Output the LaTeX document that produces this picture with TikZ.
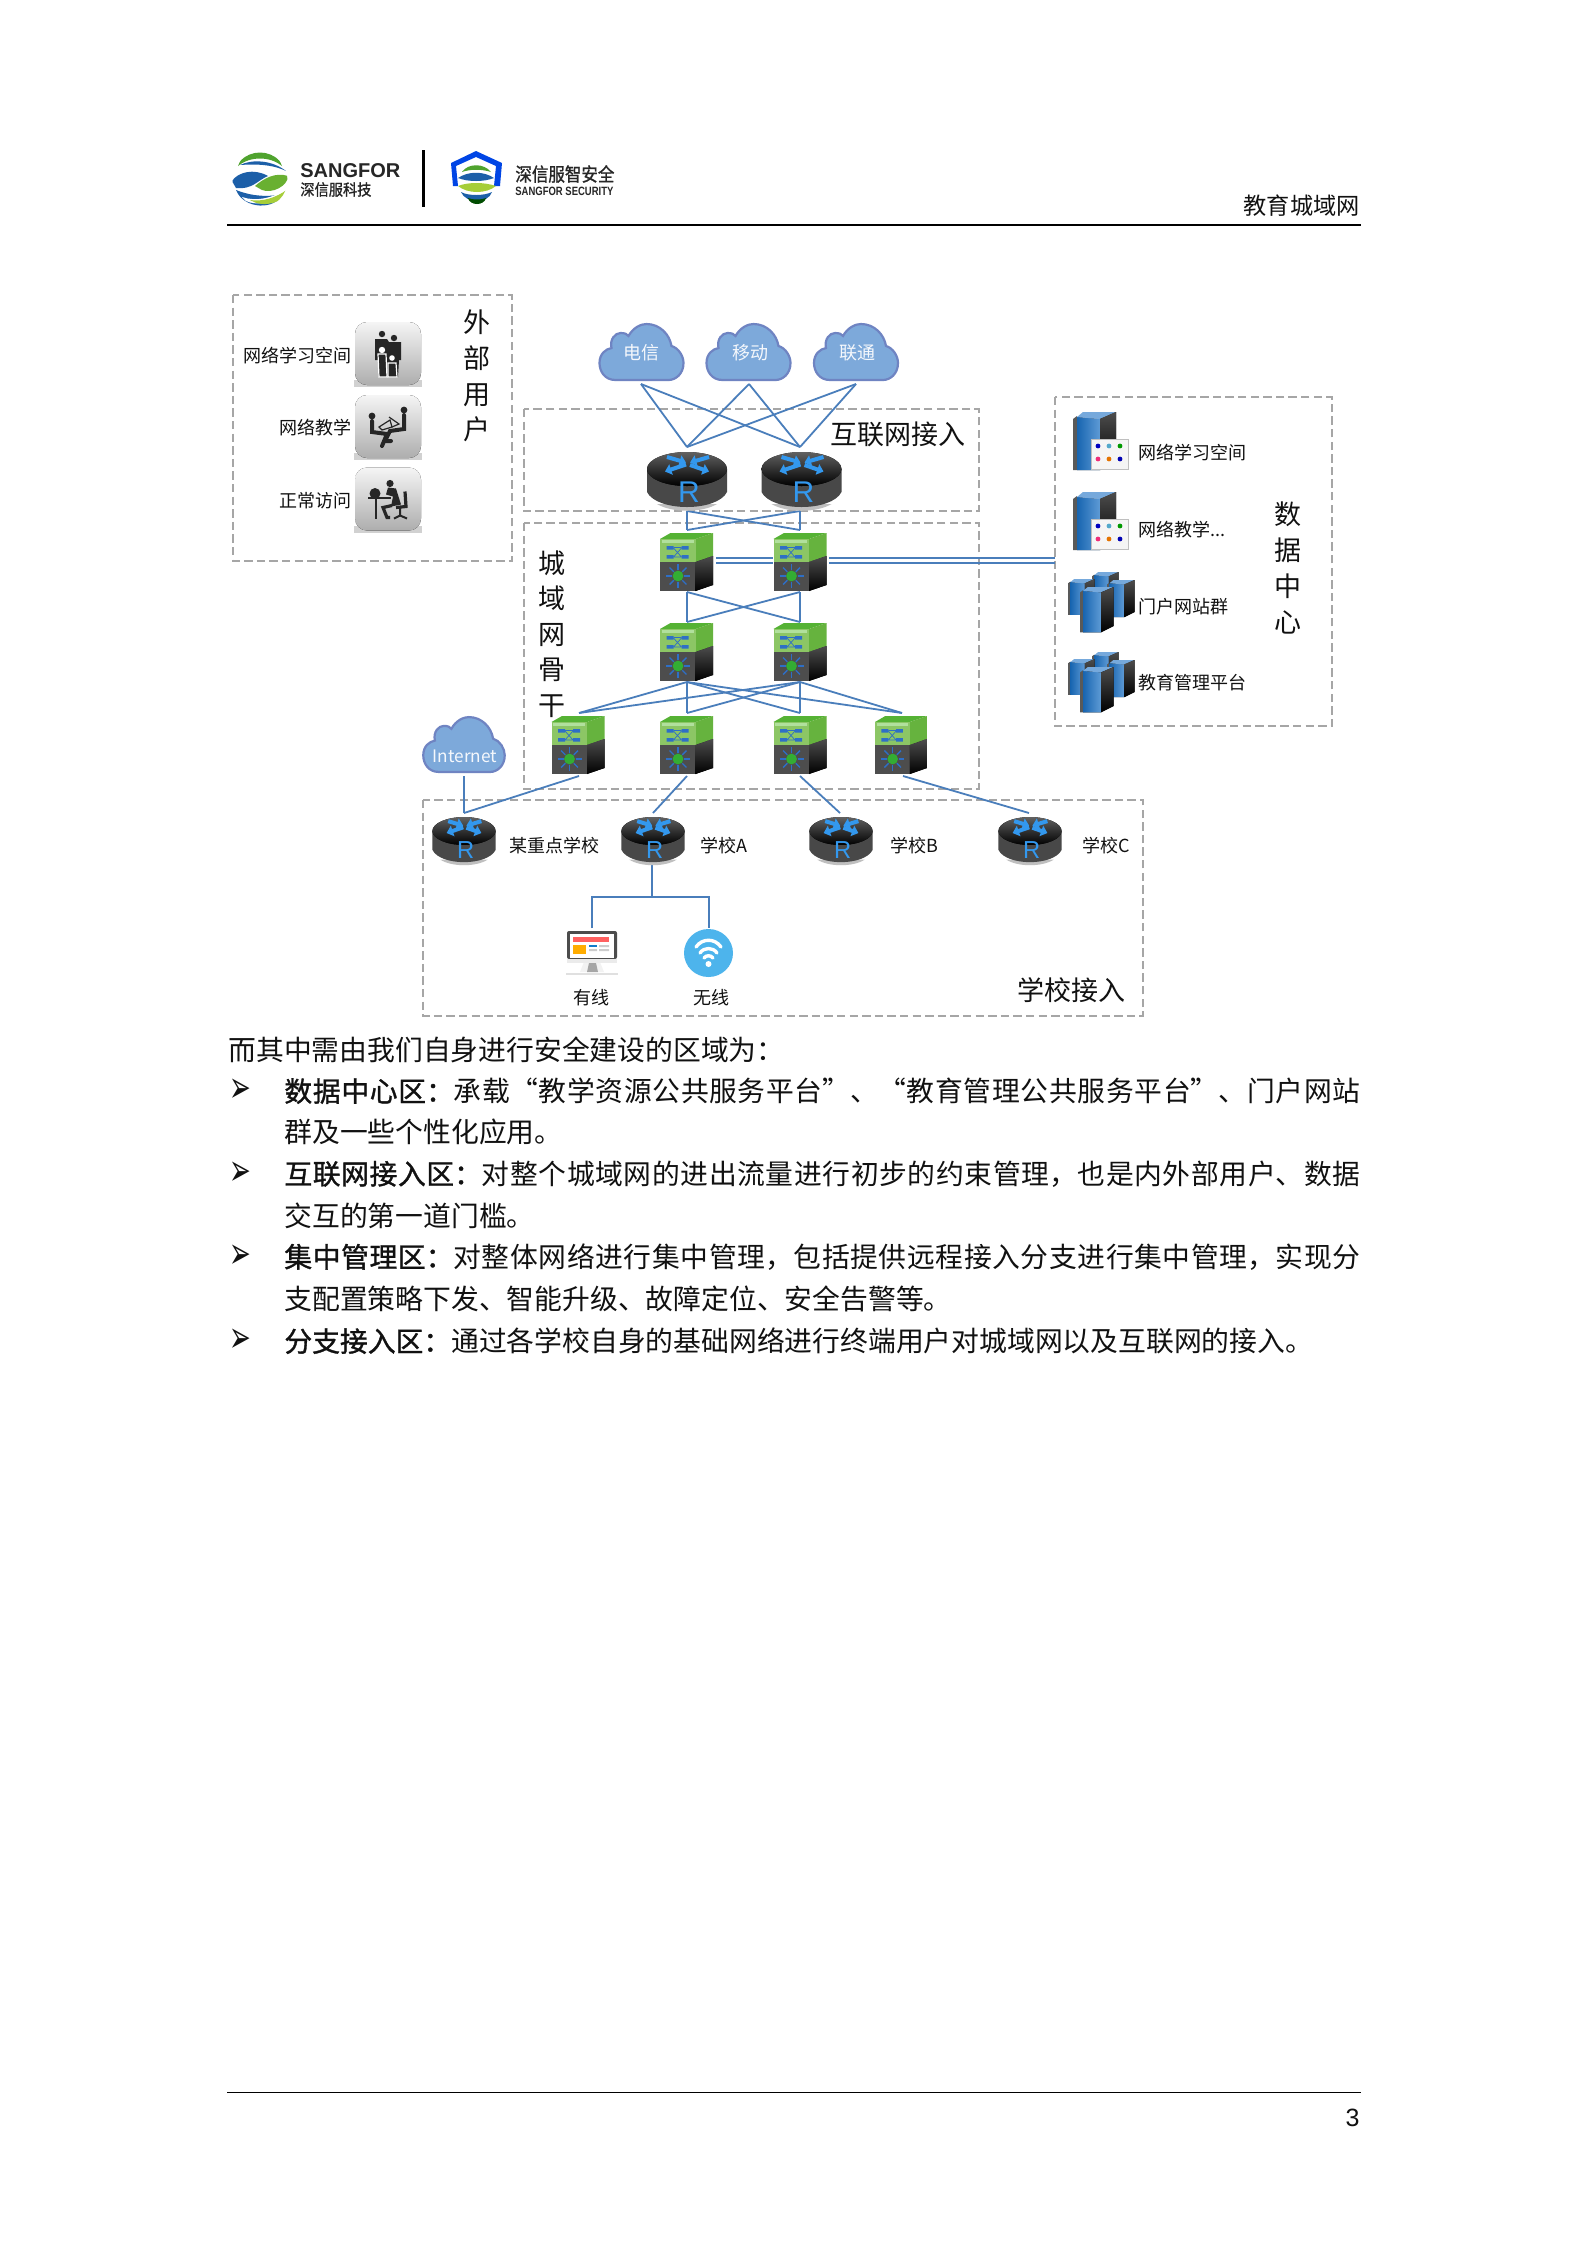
\documentclass[tikz,border=0pt]{standalone}
\usepackage{fontspec}
\setmainfont{Noto Sans CJK SC}
\newfontfamily\fbold{Noto Sans CJK SC}[FakeBold=1.2]
\newfontfamily\arial{Liberation Sans}
\newfontfamily\dejavu{DejaVu Sans}
\usetikzlibrary{arrows.meta}
\definecolor{linkc}{HTML}{4A7EBB}
\definecolor{dashc}{HTML}{A6A6A6}
\definecolor{cloudf}{HTML}{7DA9DA}
\definecolor{cloudd}{HTML}{6F84C2}
\definecolor{rblue}{HTML}{3398EE}
\definecolor{rbody}{HTML}{484848}
\definecolor{swlight}{HTML}{8CC665}
\definecolor{swtop}{HTML}{55B234}
\definecolor{swside}{HTML}{66B33E}
\definecolor{swdark}{HTML}{4D4D4D}
\definecolor{swblue}{HTML}{2E6FC6}
\definecolor{srvblue}{HTML}{1A70C4}
\definecolor{txt}{HTML}{111111}
\definecolor{sil}{HTML}{262626}
\definecolor{lgblue}{HTML}{1C5FA8}
\definecolor{lggreen}{HTML}{4FA32E}
\definecolor{lglime}{HTML}{A6CE39}
\definecolor{wifib}{HTML}{4DB4EC}
\tikzset{
 zone/.style={draw=dashc,line width=1pt,dash pattern=on 4.2pt off 2.1pt},
 link/.style={draw=linkc,line width=.9pt},
 small/.style={font=\fontsize{9}{9}\selectfont,color=txt,inner sep=0pt},
 big/.style={font=\fontsize{13.5}{13.5}\selectfont,color=txt,inner sep=0pt},
 vert/.style={font=\fontsize{13.5}{17.8}\selectfont,color=txt,inner sep=0pt,align=center},
 cloudtext/.style={font=\fontsize{9}{9}\selectfont,color=white!92!cloudf,inner sep=0pt},
 bodytext/.style={anchor=west,inner sep=0pt,font=\fontsize{13.9}{13.9}\selectfont,color=txt},
 bullettext/.style={anchor=west,inner sep=0pt,font=\dejavu\fontsize{13}{13}\selectfont,color=txt},
 raro/.style={draw=rblue,line width=2pt,-{Triangle[length=3.2pt,width=5.4pt]}},
 cloudicon/.pic={
  \path[fill=cloudf,draw=cloudd,line width=1.1pt]
   (-26,28) .. controls (-37,28) and (-42,19) .. (-42,11) .. controls (-42,2) and (-36,-3) .. (-30,-4)
   .. controls (-32,-13) and (-26,-19) .. (-21,-19) .. controls (-17,-19) and (-14,-18) .. (-13,-16)
   .. controls (-8,-25) and (0,-28) .. (5,-28) .. controls (18,-28) and (28,-18) .. (30,-6)
   .. controls (37,-4) and (42,4) .. (42,11) .. controls (42,22) and (34,28) .. (27,28) -- cycle;
 },
 routericon/.pic={
  \fill[black!25] (-30,24) .. controls (-15,33) and (15,33) .. (30,24) -- cycle;
  \fill[rbody] (-40,-11) -- (-40,12) .. controls (-30,32) and (30,32) .. (40,12) -- (40,-11) -- cycle;
  \fill[top color=black!62,bottom color=black] (0,-11) ellipse [x radius=40,y radius=17];
  \draw[raro] (-20,-23) -- (-1,-17.5);
  \draw[raro] (-1,-15.5) -- (-22,-8.5);
  \draw[raro] (22,-23) -- (3,-17.5);
  \draw[raro] (3,-15) -- (22,-8.5);
  \node[transform shape,inner sep=0pt,text=rblue,font=\arial\fontsize{15}{15}\selectfont] at (2,12) {R};
 },
 switchicon/.pic={
  \fill[swtop] (-26.5,-23) -- (-16,-29) -- (26.5,-29) -- (9,-23) -- cycle;
  \fill[swside] (9,-23) -- (26.5,-29) -- (26.5,-6) -- (9,0) -- cycle;
  \fill[swlight] (-26.5,-23) rectangle (9,0);
  \fill[green!10!swlight!60!white] (-25,-22) rectangle (7,-19.5);
  \fill[swdark] (-26.5,0) rectangle (9,29);
  \fill[top color=black!70,bottom color=black] (9,0) -- (26.5,-6) -- (26.5,23) -- (9,29) -- cycle;
  \fill[swblue] (-20,-16) rectangle (-13,-12.5) (-5,-16) rectangle (2,-12.5)
   (-20,-7) rectangle (-13,-3.5) (-5,-7) rectangle (2,-3.5);
  \draw[swblue,line width=.35pt] (-13,-14) -- (-5,-5) (-13,-5) -- (-5,-14) (-13,-14.5) -- (-5,-14.5) (-13,-5) -- (-5,-5);
  \foreach \a in {0,45,...,315}
   \draw[swblue,line width=.7pt] (-8.5,14) ++(\a:6) -- ++(\a:6);
  \fill[green!60!black!80!white] (-8.5,14) circle [radius=5.4];
 },
 towericon/.pic={
  \fill[black!65] (0,7) -- (4,4) -- (4,58) -- (0,58) -- cycle;
  \fill[left color=srvblue!90!black,right color=srvblue!70!white] (4,5) -- (27,7) -- (27,58) -- (4,58) -- cycle;
  \fill[srvblue!60!white] (4,5) -- (10,0) -- (43,0) -- (27,7) -- cycle;
  \fill[top color=black!70,bottom color=black] (27,7) -- (43,0) -- (43,50) -- (27,58) -- cycle;
 },
 panelicon/.pic={
  \fill[black!4] (18,27) rectangle (55,57);
  \draw[black!25,line width=.3pt] (18,27) rectangle (55,57);
  \fill[blue!75!black] (25,34) circle [radius=2.4];
  \fill[cyan!60!gray] (36,34) circle [radius=2.4];
  \fill[green!60!black] (47,34) circle [radius=2.4];
  \fill[magenta!70!orange] (25,47) circle [radius=2.4];
  \fill[orange!90!black] (36,47) circle [radius=2.4];
  \fill[blue!70!black] (47,47) circle [radius=2.4];
 },
 clustericon/.pic={
  \pic[scale=.62] at (24,0) {towericon};
  \pic[scale=.62] at (0,7) {towericon};
  \pic[scale=.64] at (39,8) {towericon};
  \pic[scale=.78] at (12,15) {towericon};
 },
 buttonicon/.pic={
  \fill[black!18] (-34,26) rectangle (34,33);
  \fill[rounded corners=6pt,top color=black!4,bottom color=black!32] (-33,-32) rectangle (33,31);
 },
}
\begin{document}
\begin{tikzpicture}[x=.5pt,y=-.5pt]
\useasboundingbox (0,0) rectangle (1587,2245);
\fill[white] (0,0) rectangle (1587,2245);

% ---------- header logo
\begin{scope}
 \clip (260,180) circle [radius=27.5];
 \fill[white] (233,152) rectangle (288,208);
 \fill[lggreen] (238,166) .. controls (245,146) and (275,146) .. (282,166) .. controls (270,156) and (250,156) .. cycle;
 \fill[lgblue] (240,165) .. controls (252,159) and (272,160) .. (286,171) .. controls (272,164) and (254,164) .. cycle;
 \fill[lgblue] (232,181) .. controls (238,172) and (254,168) .. (268,176) .. controls (258,180) and (252,190) .. (236,188) -- cycle;
 \fill[lggreen!70!lglime] (255,186) .. controls (264,178) and (276,172) .. (288,176) .. controls (288,186) and (272,194) .. (262,190) -- cycle;
 \fill[lgblue] (236,190) .. controls (248,195) and (266,198) .. (282,194) .. controls (276,210) and (244,210) .. cycle;
 \fill[white] (242,197) .. controls (256,202) and (274,198) .. (288,188) -- (288,192) .. controls (274,203) and (256,206) .. (246,201) -- cycle;
 \fill[lglime] (250,200) .. controls (262,202) and (276,198) .. (288,189) .. controls (284,204) and (262,208) .. cycle;
\end{scope}
\node[inner sep=0pt,anchor=west,text=black!85] (sangfor) at (300,170.5) {\resizebox{50pt}{!}{\arial\bfseries SANGFOR}};
\node[inner sep=0pt,anchor=west,text=black!85] (sangcn) at (300,189.5) {\resizebox{35.5pt}{6.6pt}{\fbold 深信服科技}};
\fill[black] (421.5,150) rectangle (424.5,207);
\path[fill=blue!70!cyan!90!black] (451,163) -- (476,151) -- (502,163) -- (500,186) -- (494,186) -- (496,166) -- (476,157) -- (456,166) -- (458,186) -- (453,186) -- cycle;
\fill[lggreen] (462,172) .. controls (468,163) and (484,163) .. (491,172) .. controls (482,169) and (470,169) .. cycle;
\fill[lgblue] (458,178) .. controls (468,171) and (484,171) .. (494,178) .. controls (484,182) and (468,182) .. cycle;
\fill[lglime] (458,186) .. controls (468,182) and (484,182) .. (496,186) .. controls (486,194) and (468,194) .. cycle;
\fill[lgblue] (461,192) .. controls (468,196) and (484,196) .. (492,192) .. controls (488,204) and (466,204) .. cycle;
\fill[green!30!black] (468,198) .. controls (472,200) and (482,200) .. (486,198) .. controls (484,206) and (470,206) .. cycle;
\node[inner sep=0pt,anchor=west,text=black!85] (seccn) at (515,174) {\resizebox{49.5pt}{8pt}{\fbold 深信服智安全}};
\node[inner sep=0pt,anchor=west,text=black!85] (secen) at (515,191.5) {\resizebox{49pt}{4.2pt}{\arial\bfseries SANGFOR SECURITY}};
\node[inner sep=0pt,anchor=east,text=txt,font=\fontsize{11.6}{11.6}\selectfont] (hdr) at (1360,206) {教育城域网};
\draw[black,line width=1pt] (227,225) -- (1361,225);

% ---------- zones
\draw[zone] (233,295) rectangle (512,561);
\draw[zone] (524,409) rectangle (979,511);
\draw[zone] (524,523) rectangle (979,789);
\draw[zone] (1055,397) rectangle (1332,726);
\draw[zone] (423,800) rectangle (1143,1016);

% ---------- named anchors
\coordinate (c1b) at (641,384); \coordinate (c2b) at (749,384); \coordinate (c3b) at (856,384);
\coordinate (r1t) at (687,447); \coordinate (r2t) at (800,447);
\coordinate (r1b) at (687,511); \coordinate (r2b) at (800,511);
\coordinate (s1t) at (687,530); \coordinate (s2t) at (800,530);
\coordinate (s1b) at (687,592); \coordinate (s2b) at (800,592);
\coordinate (m1t) at (687,622); \coordinate (m2t) at (800,622);
\coordinate (m1b) at (687,682); \coordinate (m2b) at (800,682);
\coordinate (e1t) at (579,713); \coordinate (e2t) at (687,713); \coordinate (e3t) at (800,713); \coordinate (e4t) at (902,713);
\coordinate (e1b) at (579,776); \coordinate (e2b) at (687,776); \coordinate (e3b) at (800,776); \coordinate (e4b) at (903,776);
\coordinate (it) at (464,776);
\coordinate (sa) at (464,813); \coordinate (sb) at (653,813); \coordinate (sc) at (840,813); \coordinate (sd) at (1029,813);
\coordinate (sbb) at (652,865); \coordinate (sbj) at (652,897);
\coordinate (wiredj) at (592,897); \coordinate (wifij) at (709,897);
\coordinate (wiredt) at (592,928); \coordinate (wifit) at (709,928);
\coordinate (d1a) at (716,558); \coordinate (d1b) at (773,558); \coordinate (d2a) at (716,563); \coordinate (d2b) at (773,563);
\coordinate (d3a) at (829,558); \coordinate (d3b) at (1055,558); \coordinate (d4a) at (829,563); \coordinate (d4b) at (1055,563);

% ---------- connectors
\foreach \a in {c1b,c2b,c3b} \foreach \b in {r1t,r2t} \draw[link] (\a) -- (\b);
\foreach \a in {r1b,r2b} \foreach \b in {s1t,s2t} \draw[link] (\a) -- (\b);
\foreach \a in {s1b,s2b} \foreach \b in {m1t,m2t} \draw[link] (\a) -- (\b);
\foreach \a in {m1b,m2b} \foreach \b in {e1t,e2t,e3t,e4t} \draw[link] (\a) -- (\b);
\draw[link] (it) -- (sa);
\draw[link] (e1b) -- (sa);
\draw[link] (e2b) -- (sb);
\draw[link] (e3b) -- (sc);
\draw[link] (e4b) -- (sd);
\draw[link] (sbb) -- (sbj);
\draw[link] (wiredt) -- (wiredj) -- (wifij) -- (wifit);
\draw[link] (d1a) -- (d1b); \draw[link] (d2a) -- (d2b);
\draw[link] (d3a) -- (d3b); \draw[link] (d4a) -- (d4b);

% ---------- clouds
\pic at (641.5,352) {cloudicon};
\pic at (748.5,352) {cloudicon};
\pic at (856,352) {cloudicon};
\pic[xscale=.97,yscale=.98] at (464,744.5) {cloudicon};
\node[cloudtext] (ct) at (641,353) {电信};
\node[cloudtext] (cm) at (750,353) {移动};
\node[cloudtext] (cu) at (857,353) {联通};
\node[cloudtext,font=\fontsize{8.6}{9}\selectfont] (inet) at (465,756) {Internet};

% ---------- routers
\pic at (687,480) {routericon};
\pic at (801.5,480) {routericon};
\pic[xscale=.79,yscale=.82] at (464,840) {routericon};
\pic[xscale=.79,yscale=.82] at (653,840) {routericon};
\pic[xscale=.79,yscale=.82] at (841,840) {routericon};
\pic[xscale=.79,yscale=.82] at (1030,840) {routericon};

% ---------- switches
\pic at (686.5,562) {switchicon};
\pic at (800,562) {switchicon};
\pic at (686.5,652) {switchicon};
\pic at (800,652) {switchicon};
\pic at (578,745) {switchicon};
\pic at (686.5,745) {switchicon};
\pic at (800,745) {switchicon};
\pic[xscale=.98] at (901,745) {switchicon};

% ---------- user buttons
\pic at (388,354) {buttonicon};
\pic at (388,427) {buttonicon};
\pic at (388,499.5) {buttonicon};
% family
\begin{scope}[shift={(388,354)}]
 \fill[sil] (-6,-20) circle [radius=3.2] (6,-16) circle [radius=3.2];
 \fill[sil] (-13,-15) -- (-1,-15) -- (1,-12) -- (13,-12) -- (13,6) -- (11,6) -- (10,23) -- (-9,23) -- (-10,6) -- (-13,6) -- cycle;
 \draw[white,line width=.6pt,fill=sil] (-10,0) -- (-2,0) -- (-1,23) -- (-9,23) -- cycle;
 \fill[white] (-6,-4) circle [radius=3.2];
 \draw[white,line width=.6pt,fill=sil] (0,9) -- (8,9) -- (9,23) -- (0,23) -- cycle;
 \fill[white] (4,4) circle [radius=2.8];
\end{scope}
% reading pair
\begin{scope}[shift={(388,427)}]
 \fill[sil] (-16,-11) circle [radius=3.4] (16,-17) circle [radius=3.4];
 \draw[sil,line width=2pt,line cap=round] (-16,-6) -- (-16,5) -- (-1,7) -- (-6,19);
 \draw[sil,line width=2pt,line cap=round] (16,-12) -- (16,2) -- (2,4) -- (-3,14) -- (3,14);
 \draw[sil,line width=.6pt] (-9,0) -- (2,-7) -- (4,0) -- (-6,3) -- cycle;
 \draw[sil,line width=.6pt] (1,-10) -- (11,-3) -- (4,0);
\end{scope}
% desk user
\begin{scope}[shift={(388,499.5)}]
 \fill[sil] (2,-16) circle [radius=3.6];
 \fill[sil] (-13,-6) circle [radius=5.5];
 \fill[sil] (-20,-2.5) rectangle (3,-.5);
 \fill[sil] (-13,-1) rectangle (-11,19);
 \fill[sil] (0,-12) -- (8,-11) -- (13,5) -- (3,7) -- (5,-3) -- (-2,-5) -- cycle;
 \draw[sil,line width=1.6pt] (4,6) -- (-5,8) -- (-1,18) -- (2,18);
 \draw[sil,line width=1.6pt] (17,-8) -- (18,7) -- (8,8);
 \draw[sil,line width=1pt] (12,8) -- (12,17) (6,19) -- (12,16) -- (19,19);
\end{scope}

% ---------- user labels
\node[small,anchor=east] (u1) at (352,356) {网络学习空间};
\node[small,anchor=east] (u2) at (352,428) {网络教学};
\node[small,anchor=east] (u3) at (352,501) {正常访问};
\node[vert] (uz) at (477,376) {外\\部\\用\\户};
\node[big,anchor=west] (inz) at (830,434) {互联网接入};
\node[vert] (cz) at (552,634) {城\\域\\网\\骨\\干};

% ---------- servers
\pic at (1073,412) {towericon};
\pic at (1073,412) {panelicon};
\pic at (1073,492) {towericon};
\pic at (1073,492) {panelicon};
\pic at (1068,572) {clustericon};
\pic at (1068,652) {clustericon};
\node[small,anchor=west] (d1) at (1138,453) {网络学习空间};
\node[small,anchor=west] (d2) at (1138,530) {网络教学...};
\node[small,anchor=west] (d3) at (1138,607) {门户网站群};
\node[small,anchor=west] (d4) at (1138,683) {教育管理平台};
\node[vert,font=\fontsize{13.5}{18}\selectfont] (dz) at (1288,568) {数\\据\\中\\心};

% ---------- school labels
\node[small,anchor=west] (l0) at (509,846) {某重点学校};
\node[small,anchor=west] (l1) at (700,846) {学校A};
\node[small,anchor=west] (l2) at (890,846) {学校B};
\node[small,anchor=west] (l3) at (1082,846) {学校C};
\node[small] (l4) at (591,998) {有线};
\node[small] (l5) at (711.5,998) {无线};
\node[big,anchor=east] (sz) at (1126,990) {学校接入};

% ---------- monitor
\fill[black!5] (584,962) -- (600,962) -- (604,972) -- (580,972) -- cycle;
\fill[black!35] (589,963) -- (596,963) -- (598,972) -- (587,972) -- cycle;
\fill[black!12] (566,973) rectangle (618,975);
\fill[black!70,rounded corners=1pt] (567,931) rectangle (617,959);
\fill[black!8] (567,959) rectangle (617,963);
\fill[white] (570,934) rectangle (614,958);
\fill[red!50!pink] (573,937) rectangle (609,942);
\fill[orange!65!yellow] (573,945) rectangle (586,954);
\fill[cyan!60!blue] (589,945) rectangle (597,947);
\fill[black!20] (599,945) rectangle (609,947) (589,949) rectangle (597,951) (599,949) rectangle (609,951);
% ---------- wifi
\fill[wifib] (708.5,953) ellipse [x radius=24.5,y radius=24];
\draw[white,line width=1.7pt,line cap=round] (696,947) .. controls (702,938) and (715,938) .. (721,947);
\draw[white,line width=1.7pt,line cap=round] (700,953) .. controls (704,947) and (713,947) .. (717,953);
\draw[white,line width=1.7pt,line cap=round] (704,958) .. controls (706,955) and (711,955) .. (713,958);
\fill[white] (708.5,964) circle [radius=3];

% ---------- body text
\newcommand{\justline}[2]{\parbox{538pt}{\XeTeXlinebreaklocale "zh"\XeTeXlinebreakskip=0pt plus 2pt\parfillskip=0pt\tolerance=10000\hbadness=10000 {\fbold #1}#2}}
\node[bodytext] (t0) at (228,1050) {而其中需由我们自身进行安全建设的区域为：};
\node[bullettext] (b1) at (229,1091) {\scalebox{1}[1.7]{➢}};
\node[bullettext] (b2) at (229,1174) {\scalebox{1}[1.7]{➢}};
\node[bullettext] (b3) at (229,1257) {\scalebox{1}[1.7]{➢}};
\node[bullettext] (b4) at (229,1341) {\scalebox{1}[1.7]{➢}};
\node[bodytext] (t1) at (284,1091) {\justline{数据中心区：}{承载“教学资源公共服务平台”、“教育管理公共服务平台”、门户网站}};
\node[bodytext] (t2) at (284,1132) {群及一些个性化应用。};
\node[bodytext] (t3) at (284,1174) {\justline{互联网接入区：}{对整个城域网的进出流量进行初步的约束管理，也是内外部用户、数据}};
\node[bodytext] (t4) at (284,1216) {交互的第一道门槛。};
\node[bodytext] (t5) at (284,1257) {\justline{集中管理区：}{对整体网络进行集中管理，包括提供远程接入分支进行集中管理，实现分}};
\node[bodytext] (t6) at (284,1299) {支配置策略下发、智能升级、故障定位、安全告警等。};
\node[bodytext] (t7) at (284,1341) {{\fbold 分支接入区：}通过各学校自身的基础网络进行终端用户对城域网以及互联网的接入。};

% ---------- footer
\draw[black,line width=.5pt] (227,2092) -- (1361,2092);
\node[inner sep=0pt,anchor=east,font=\arial\fontsize{12.5}{12.5}\selectfont,text=txt] (pg) at (1360,2118) {3};
\end{tikzpicture}
\end{document}
